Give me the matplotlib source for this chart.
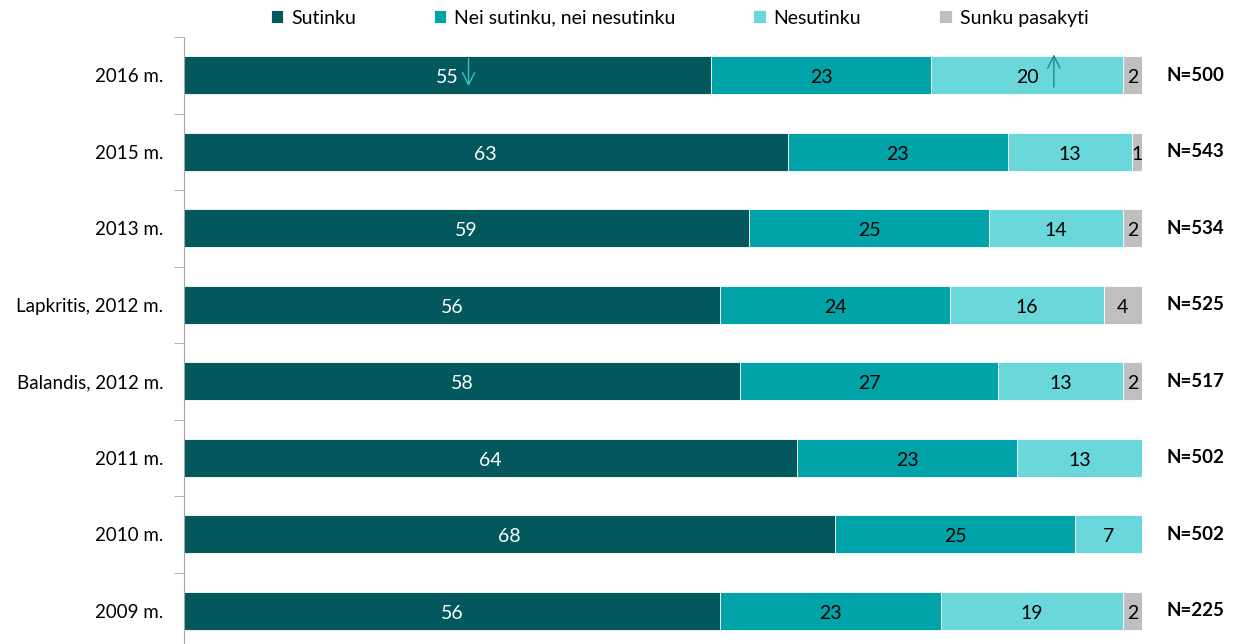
import matplotlib.pyplot as plt
import numpy as np

plt.rcParams['font.family'] = ['Lato', 'DejaVu Sans']

labels = ['2016 m.', '2015 m.', '2013 m.', 'Lapkritis, 2012 m.', 'Balandis, 2012 m.',
          '2011 m.', '2010 m.', '2009 m.']
n_labels = ['N=500', 'N=543', 'N=534', 'N=525', 'N=517', 'N=502', 'N=502', 'N=225']
sutinku = [55, 63, 59, 56, 58, 64, 68, 56]
nei = [23, 23, 25, 24, 27, 23, 25, 23]
nesutinku = [20, 13, 14, 16, 13, 13, 7, 19]
sunku = [2, 1, 2, 4, 2, 0, 0, 2]

series = [('Sutinku', sutinku, '#02585C', 'white'),
          ('Nei sutinku, nei nesutinku', nei, '#00A3A7', 'black'),
          ('Nesutinku', nesutinku, '#6AD7DA', 'black'),
          ('Sunku pasakyti', sunku, '#BFBFBF', 'black')]

fig = plt.figure(figsize=(12.41, 6.44), dpi=100)
ax = fig.add_axes([0.1483, -0.0078, 0.7719, 0.9503])

y = np.arange(len(labels))
left = np.zeros(len(labels))
for name, vals, color, tcol in series:
    vals = np.array(vals, dtype=float)
    ax.barh(y, vals, left=left, height=0.5, color=color, edgecolor='white',
            linewidth=0.6, label=name)
    for i, v in enumerate(vals):
        if v > 0:
            ax.text(left[i] + v / 2, y[i] + 0.03, f'{int(v)}', ha='center', va='center',
                    color=tcol, fontsize=14)
    left += vals

for i, n in enumerate(n_labels):
    ax.text(102.6, y[i], n, ha='left', va='center', fontsize=13.5, fontweight='bold')

# change arrows for 2016
ax.annotate('', xy=(29.7, 0.18), xytext=(29.7, -0.26),
            arrowprops=dict(arrowstyle='->', color='#3CC0C2', lw=1.0, mutation_scale=22))
ax.annotate('', xy=(90.8, -0.31), xytext=(90.8, 0.19),
            arrowprops=dict(arrowstyle='->', color='#1B8C8E', lw=1.0, mutation_scale=22))

ax.set_xlim(0, 100)
ax.set_ylim(len(labels) - 0.5, -0.5)
ax.set_yticks(y)
ax.set_yticklabels(labels, fontsize=13.5)
ax.set_yticks(np.arange(-0.5, len(labels), 1), minor=True)
ax.tick_params(axis='y', which='major', length=0, pad=15)
ax.tick_params(axis='y', which='minor', length=7, color='#A6A6A6', direction='out')
ax.set_xticks([])
for s in ['top', 'right', 'bottom']:
    ax.spines[s].set_visible(False)
ax.spines['left'].set_color('#A6A6A6')

fig.legend(loc='upper left', bbox_to_anchor=(0.204, 1.012), ncol=4, frameon=False,
           fontsize=14, handlelength=0.65, handleheight=0.65, handletextpad=0.4,
           columnspacing=4.0)

fig.savefig('out.png', dpi=100)
